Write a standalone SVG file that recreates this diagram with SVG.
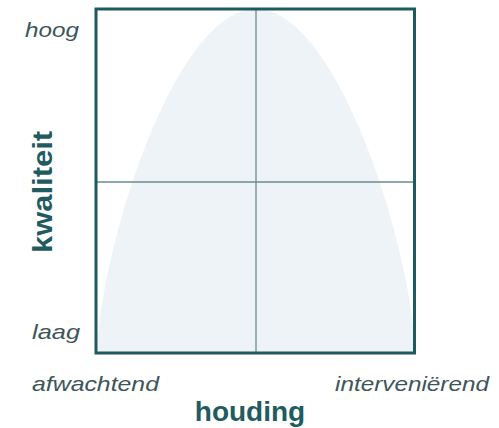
<svg xmlns="http://www.w3.org/2000/svg" width="499" height="428" viewBox="0 0 499 428">
<style>
.lbl{font-family:"Liberation Sans",Arial,sans-serif;font-style:italic;font-size:21px;fill:#3e5659}
.ttl{font-family:"Liberation Sans",Arial,sans-serif;font-weight:bold;font-size:28px;fill:#1f5b5f}
.grid{stroke:#6e8a8f;stroke-width:1.3;fill:none}
</style>
<rect width="499" height="428" fill="#ffffff"/>
<g id="curve">
<path d="M97,353 C100,250 174,9 256,9 C338,9 412,250 415,353 Z" fill="#edf3f6"/>
</g>
<g id="connectors">
<line class="grid" x1="256" y1="9" x2="256" y2="353"/>
<line class="grid" x1="96" y1="182" x2="415" y2="182"/>
</g>
<g id="frame">
<rect x="96" y="9" width="318.5" height="344" fill="none" stroke="#1f5a5e" stroke-width="3"/>
</g>
<g id="labels">
<text class="lbl" x="25" y="37" textLength="54" lengthAdjust="spacingAndGlyphs">hoog</text>
<text class="lbl" x="32" y="339" textLength="48" lengthAdjust="spacingAndGlyphs">laag</text>
<text class="lbl" x="32" y="391" textLength="127" lengthAdjust="spacingAndGlyphs">afwachtend</text>
<text class="lbl" x="335" y="391" textLength="154" lengthAdjust="spacingAndGlyphs">interveniërend</text>
<text class="ttl" x="250" y="421" text-anchor="middle">houding</text>
<text class="ttl" transform="translate(52,192) rotate(-90)" text-anchor="middle" textLength="122" lengthAdjust="spacingAndGlyphs">kwaliteit</text>
</g>
</svg>
